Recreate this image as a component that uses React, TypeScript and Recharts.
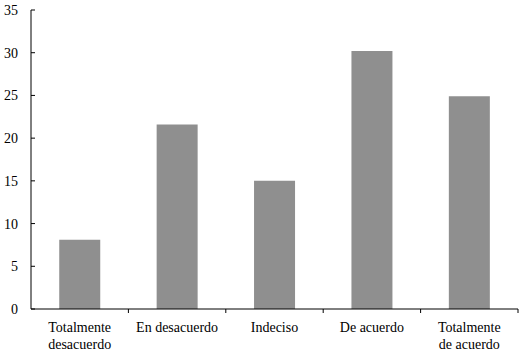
import { BarChart, Bar, XAxis, YAxis } from 'recharts'

// ── Data ─────────────────────────────────────────────────────────────────────
const CATEGORIES = [
  ['Totalmente', 'desacuerdo'],
  ['En desacuerdo'],
  ['Indeciso'],
  ['De acuerdo'],
  ['Totalmente', 'de acuerdo'],
]
const VALUES = [8.1, 21.6, 15.0, 30.2, 24.9]
const Y_TICKS = [0, 5, 10, 15, 20, 25, 30, 35]

const data = CATEGORIES.map((lines, i) => ({ name: lines.join('\n'), value: VALUES[i] }))

// ── Layout ───────────────────────────────────────────────────────────────────
const W = 528
const H = 352
const MARGIN = { top: 10, right: 10, left: 0, bottom: 0 }
const Y_AXIS_W = 31
const X_AXIS_H = 43
const HALF_BAND = (W - MARGIN.left - MARGIN.right - Y_AXIS_W) / CATEGORIES.length / 2
const FONT = '"Liberation Serif", "DejaVu Serif", serif'
const X_TICK_MARGIN = 16

function CategoryTick(props: any) {
  const { x, y, payload } = props
  const lines = String(payload.value).split('\n')
  const axisY = y - X_TICK_MARGIN
  return (
    <g>
      <line x1={x + HALF_BAND} x2={x + HALF_BAND} y1={axisY} y2={axisY + 4} stroke="#000" />
      <text x={x} y={axisY + 23} textAnchor="middle" fontSize={14} fontFamily={FONT} fill="#000">
        {lines.map((l, i) => (
          <tspan key={i} x={x} dy={i === 0 ? 0 : 17}>{l}</tspan>
        ))}
      </text>
    </g>
  )
}

export default function App() {
  return (
    <div style={{ position: 'absolute', left: 0, top: 0, width: W, height: H, background: '#fff' }}>
      <BarChart width={W} height={H} data={data} margin={MARGIN} barCategoryGap="29%">
        <XAxis
          dataKey="name"
          height={X_AXIS_H}
          tickLine={false}
          tickSize={0}
          tickMargin={X_TICK_MARGIN}
          interval={0}
          axisLine={{ stroke: '#000' }}
          tick={<CategoryTick />}
        />
        <YAxis
          width={Y_AXIS_W}
          domain={[0, 35]}
          ticks={Y_TICKS}
          interval={0}
          tickSize={-4}
          tickMargin={17}
          axisLine={{ stroke: '#000' }}
          tickLine={{ stroke: '#000' }}
          tick={{ fill: '#000', fontSize: 14, fontFamily: FONT }}
        />
        <Bar dataKey="value" fill="#8f8f8f" isAnimationActive={false} />
      </BarChart>
    </div>
  )
}
